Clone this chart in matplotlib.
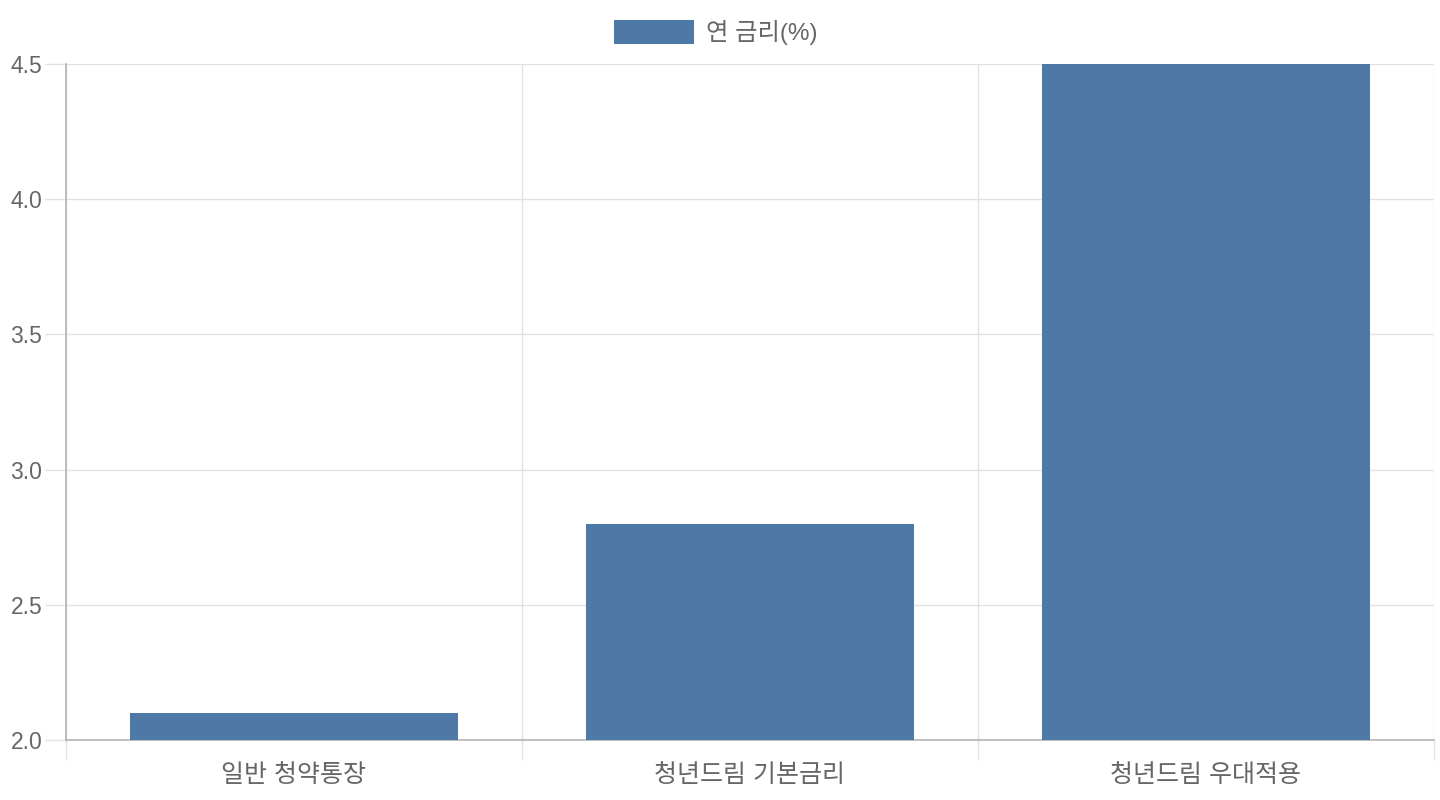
import matplotlib
matplotlib.use("Agg")
import matplotlib.pyplot as plt
import numpy as np
from matplotlib.ticker import FixedLocator, FormatStrFormatter

plt.rcParams['font.family'] = ['Liberation Sans', 'Noto Sans CJK KR', 'DejaVu Sans']

categories = ['일반 청약통장', '청년드림 기본금리', '청년드림 우대적용']
rates = [2.1, 2.8, 4.5]
series_name = '연 금리(%)'
y_ticks = [2.0, 2.5, 3.0, 3.5, 4.0, 4.5]

bar_color = '#4E79A7'
text_color = '#666666'
grid_color = '#e1e1e1'
axis_color = '#b4b4b4'

fig = plt.figure(figsize=(14.4, 8), dpi=100)
ax = fig.add_axes([66/1440, 60/800, (1434-66)/1440, (740-64)/800])

x = np.arange(len(categories))
ax.bar(x, rates, width=0.72, color=bar_color, label=series_name, zorder=3)

ax.set_xlim(-0.5, len(categories) - 0.5)
ax.set_ylim(y_ticks[0], y_ticks[-1])

ax.yaxis.set_major_locator(FixedLocator(y_ticks))
ax.yaxis.set_major_formatter(FormatStrFormatter('%.1f'))
ax.xaxis.set_major_locator(FixedLocator(np.arange(len(categories) + 1) - 0.5))
ax.xaxis.set_minor_locator(FixedLocator(x))
ax.set_xticklabels([])
ax.set_xticklabels(categories, minor=True)

ax.grid(True, which='major', color=grid_color, linewidth=1.0, zorder=0)
ax.tick_params(axis='x', which='major', length=14.5, color=grid_color, width=1.0)
ax.tick_params(axis='x', which='minor', length=0, pad=16.5, labelsize=18, labelcolor=text_color)
ax.tick_params(axis='y', which='major', length=15, color=grid_color, width=1.0, pad=2,
               labelsize=16.5, labelcolor=text_color)

for s in ['top', 'right']:
    ax.spines[s].set_visible(False)
ax.spines['left'].set_color(axis_color)
ax.spines['bottom'].set_color(axis_color)
ax.spines['left'].set_linewidth(1.2)
ax.spines['bottom'].set_linewidth(1.2)
ax.spines['left'].set_zorder(4)

fig.legend(loc='upper center', bbox_to_anchor=(0.497, 1 + 2/800), frameon=False,
           handlelength=3.3, handleheight=1.14, handletextpad=0.5,
           prop={'size': 17.5}, labelcolor=text_color)

fig.savefig('out.png', dpi=100, facecolor='white')
